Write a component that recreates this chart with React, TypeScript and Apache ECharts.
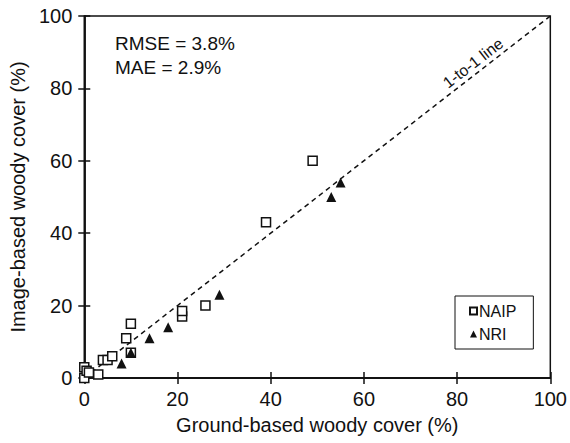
import React, { useEffect, useRef } from "react";
import * as echarts from "echarts";

const naipX = [0, 0, 0.5, 1, 3, 4, 5, 6, 9, 10, 10, 21, 21, 26, 39, 49];
const naipY = [0, 3, 2, 1.5, 1, 5, 5, 6, 11, 15, 7, 17, 18.5, 20, 43, 60];
const nriX = [8, 10, 14, 18, 29, 53, 55];
const nriY = [4, 7, 11, 14, 23, 50, 54];
const oneToOne = [[0, 0], [100, 100]];
const statsLines = ["RMSE = 3.8%", "MAE = 2.9%"];

const FONT = "Liberation Sans, Arial, sans-serif";

export default function App() {
  const ref = useRef<HTMLDivElement>(null);
  useEffect(() => {
    const chart = echarts.init(ref.current!, null, { renderer: "svg" });
    const axisCommon = {
      type: "value",
      min: 0,
      max: 100,
      interval: 20,
      splitLine: { show: false },
      axisLine: { show: true, onZero: false, lineStyle: { color: "#111", width: 1.5 } },
    };
    chart.setOption({
      animation: false,
      backgroundColor: "#fff",
      grid: {
        left: 83,
        right: 16,
        top: 16,
        bottom: 65,
        show: true,
        borderColor: "#111",
        borderWidth: 1.5,
        backgroundColor: "transparent",
      },
      xAxis: [
        {
          ...axisCommon,
          name: "Ground-based woody cover (%)",
          nameLocation: "middle",
          nameGap: 37,
          nameTextStyle: { fontFamily: FONT, fontSize: 20, color: "#111" },
          axisTick: { show: true, inside: false, length: 6, lineStyle: { color: "#111", width: 1.5 } },
          axisLabel: { fontFamily: FONT, fontSize: 20, color: "#111", margin: 11 },
        },
        {
          ...axisCommon,
          position: "bottom",
          axisTick: { show: true, inside: true, length: 6, lineStyle: { color: "#111", width: 1.5 } },
          axisLabel: { show: false },
        },
      ],
      yAxis: [
        {
          ...axisCommon,
          name: "Image-based woody cover (%)",
          nameLocation: "middle",
          nameGap: 49,
          nameTextStyle: { fontFamily: FONT, fontSize: 20, color: "#111" },
          axisTick: { show: true, inside: false, length: 6, lineStyle: { color: "#111", width: 1.5 } },
          axisLabel: { fontFamily: FONT, fontSize: 20, color: "#111", margin: 12 },
        },
        {
          ...axisCommon,
          position: "left",
          axisTick: { show: true, inside: true, length: 6, lineStyle: { color: "#111", width: 1.5 } },
          axisLabel: { show: false },
        },
      ],
      legend: {
        orient: "vertical",
        left: 455,
        top: 296,
        padding: [7, 17, 7, 14],
        itemGap: 7,
        itemWidth: 7,
        itemHeight: 7,
        borderColor: "#111",
        borderWidth: 1,
        backgroundColor: "#fff",
        textStyle: { fontFamily: FONT, fontSize: 16, color: "#111", padding: [0, 0, 0, -3] },
        data: ["NAIP", "NRI"],
      },
      series: [
        {
          type: "line",
          data: oneToOne,
          showSymbol: false,
          symbol: "none",
          lineStyle: { color: "#111", width: 1.5, type: [5, 4] },
          silent: true,
          z: 1,
        },
        {
          name: "NAIP",
          type: "scatter",
          symbol: "rect",
          symbolSize: 9,
          data: naipX.map((x, i) => [x, naipY[i]]),
          itemStyle: { color: "#fff", borderColor: "#111", borderWidth: 1.5, opacity: 1 },
          z: 3,
        },
        {
          name: "NRI",
          type: "scatter",
          symbol: "triangle",
          symbolSize: 10,
          data: nriX.map((x, i) => [x, nriY[i]]),
          itemStyle: { color: "#111", opacity: 1 },
          z: 4,
        },
      ],
      graphic: [
        {
          type: "text",
          left: 115,
          top: 31,
          style: {
            text: statsLines.join("\n"),
            font: `19px ${FONT}`,
            fill: "#111",
            lineHeight: 24,
          },
        },
        {
          type: "text",
          x: 473,
          y: 63,
          rotation: Math.atan(362 / 471),
          style: {
            text: "1-to-1 line",
            font: `16px ${FONT}`,
            fill: "#111",
            align: "center",
            verticalAlign: "middle",
          },
        },
      ],
    });
    return () => chart.dispose();
  }, []);
  return (
    <div
      ref={ref}
      style={{ position: "absolute", left: 0, top: 0, width: 570, height: 443 }}
    />
  );
}
